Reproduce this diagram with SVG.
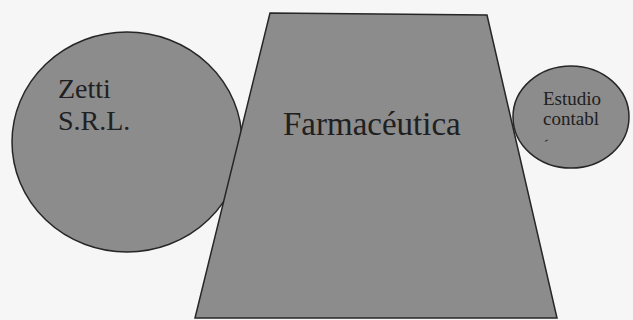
<svg xmlns="http://www.w3.org/2000/svg" width="633" height="320" viewBox="0 0 633 320">
  <style>
    .shape { fill: #8c8c8c; stroke: #262626; stroke-width: 1.5; }
    .lbl { font-family: "Liberation Serif", "Times New Roman", serif; fill: #202020; }
  </style>
  <rect x="0" y="0" width="633" height="320" fill="#f6f6f6"/>
  <g id="zetti">
    <ellipse class="shape" cx="127" cy="142" rx="115" ry="110"/>
    <text class="lbl" x="58" y="98" font-size="28">Zetti</text>
    <text class="lbl" x="58" y="130" font-size="28">S.R.L.</text>
  </g>
  <g id="farmaceutica">
    <polygon class="shape" points="270,13 487,15 557,318 195,318"/>
    <text class="lbl" x="283" y="135" font-size="33">Farmacéutica</text>
  </g>
  <g id="estudio">
    <ellipse class="shape" cx="571" cy="117" rx="58" ry="51"/>
    <text class="lbl" x="543" y="105" font-size="19">Estudio</text>
    <text class="lbl" x="543" y="125" font-size="19">contabl</text>
    <text class="lbl" x="544" y="143" font-size="12" transform="rotate(-30 547 140)">-</text>
  </g>
  <g id="connectors"></g>
</svg>
